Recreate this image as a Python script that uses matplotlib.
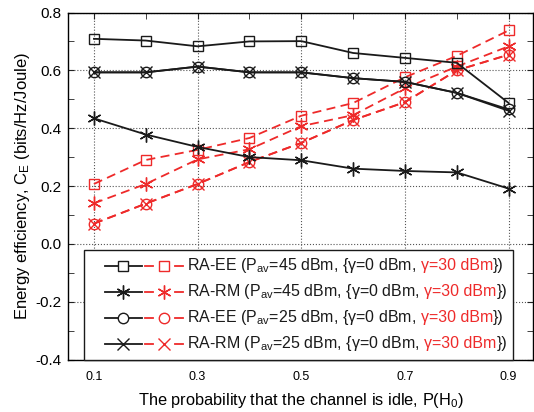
import numpy as np
import matplotlib
matplotlib.use("Agg")
import matplotlib.pyplot as plt
from matplotlib.lines import Line2D
from matplotlib.ticker import MultipleLocator, FormatStrFormatter
from matplotlib.offsetbox import (TextArea, DrawingArea, HPacker, VPacker,
                                  AnchoredOffsetbox)

plt.rcParams['font.family'] = ['Liberation Sans', 'DejaVu Sans']
plt.rcParams['mathtext.fontset'] = 'custom'
plt.rcParams['mathtext.rm'] = 'Liberation Sans'
plt.rcParams['mathtext.it'] = 'Liberation Sans:italic'

p_idle = [0.1, 0.2, 0.3, 0.4, 0.5, 0.6, 0.7, 0.8, 0.9]

# gamma = 0 dBm (black, solid)
ee45_g0 = [0.709, 0.703, 0.683, 0.700, 0.701, 0.660, 0.643, 0.626, 0.487]
rm45_g0 = [0.434, 0.378, 0.335, 0.300, 0.289, 0.260, 0.252, 0.247, 0.191]
ee25_g0 = [0.593, 0.593, 0.613, 0.593, 0.593, 0.573, 0.560, 0.522, 0.465]
rm25_g0 = [0.593, 0.593, 0.613, 0.593, 0.593, 0.573, 0.560, 0.522, 0.460]

# gamma = 30 dBm (red, dashed)
ee45_g30 = [0.207, 0.290, 0.325, 0.366, 0.443, 0.487, 0.576, 0.650, 0.738]
rm45_g30 = [0.140, 0.207, 0.292, 0.327, 0.407, 0.445, 0.538, 0.613, 0.683]
ee25_g30 = [0.070, 0.139, 0.207, 0.283, 0.349, 0.428, 0.490, 0.600, 0.654]
rm25_g30 = [0.070, 0.139, 0.207, 0.283, 0.349, 0.428, 0.490, 0.600, 0.654]

RED = '#ee2a2a'
BLK = '#1a1a1a'
STAR = (6, 2, 0)

series = [
    (ee45_g0, ee45_g30, 's', 'RA-EE', '45'),
    (rm45_g0, rm45_g30, STAR, 'RA-RM', '45'),
    (ee25_g0, ee25_g30, 'o', 'RA-EE', '25'),
    (rm25_g0, rm25_g30, 'x', 'RA-RM', '25'),
]

fig = plt.figure(figsize=(5.34, 4.12), dpi=100)
ax = fig.add_axes([68 / 534, 1 - 359.5 / 412, 465 / 534, 347 / 412])

msz = {'s': 7.5, STAR: 10, 'o': 7.5, 'x': 9}
for blk, red, mk, name, pav in series:
    ax.plot(p_idle, red, color=RED, ls=(0, (5, 3)), lw=1.3, marker=mk,
            ms=msz[mk], mfc='none', mec=RED, mew=1.0, zorder=3)
for blk, red, mk, name, pav in series:
    ax.plot(p_idle, blk, color=BLK, ls='-', lw=1.3, marker=mk,
            ms=msz[mk], mfc='none', mec=BLK, mew=1.0, zorder=4)

ax.set_xlim(0.05, 0.947)
ax.set_ylim(-0.4, 0.8)
ax.set_xticks([0.1, 0.3, 0.5, 0.7, 0.9])
ax.xaxis.set_minor_locator(MultipleLocator(0.1))
ax.yaxis.set_major_locator(MultipleLocator(0.2))
ax.yaxis.set_minor_locator(MultipleLocator(0.1))
ax.yaxis.set_major_formatter(FormatStrFormatter('%.1f'))
ax.xaxis.set_major_formatter(FormatStrFormatter('%.1f'))
ax.tick_params(which='both', direction='in', top=True, right=True,
               length=4, color='#222222')
ax.tick_params(axis='x', labelsize=9, pad=8)
ax.tick_params(axis='y', labelsize=11, pad=5)
ax.grid(True, which='major', ls=':', lw=0.8, color='#555555')
for sp in ax.spines.values():
    sp.set_linewidth(1.0)

ax.set_xlabel('The probability that the channel is idle, P(H$_0$)',
              fontsize=11.8, labelpad=6)
ax.set_ylabel('Energy efficiency, C$_{\\rm E}$ (bits/Hz/Joule)',
              fontsize=12, labelpad=2)

# legend with two-part handles and two-colour text
rows = []
fs = 11.5
for blk, red, mk, name, pav in series:
    da = DrawingArea(69, 10, 0, 0)
    da.add_artist(Line2D([10.8, 37.4], [5, 5], color=BLK, lw=1.3))
    da.add_artist(Line2D([23.8], [5], marker=mk, ms=msz[mk], mfc='white',
                         mec=BLK, mew=1.0, ls='none'))
    da.add_artist(Line2D([39.6, 45.4], [5, 5], color=RED, lw=1.3))
    da.add_artist(Line2D([61.2, 66.9], [5, 5], color=RED, lw=1.3))
    da.add_artist(Line2D([53.3], [5], marker=mk, ms=msz[mk], mfc='white',
                         mec=RED, mew=1.0, ls='none'))
    t1 = TextArea(name + ' (P$_{\\rm av}$=' + pav + ' dBm, {\u03b3=0 dBm,',
                  textprops=dict(fontsize=fs, color=BLK))
    t2 = TextArea('\u03b3=30 dBm', textprops=dict(fontsize=fs, color=RED))
    t3 = TextArea('})', textprops=dict(fontsize=fs, color=BLK))
    txt = HPacker(children=[t1, HPacker(children=[t2, t3], sep=0,
                                        align='baseline')],
                  sep=3, align='baseline')
    rows.append(HPacker(children=[da, txt], sep=1, align='center'))

box = VPacker(children=rows, sep=5, align='left')
leg = AnchoredOffsetbox(loc='lower left', child=box, pad=0.45,
                        borderpad=0, frameon=True,
                        bbox_to_anchor=(16 / 465, 0),
                        bbox_transform=ax.transAxes)
leg.patch.set_edgecolor(BLK)
leg.patch.set_linewidth(1.0)
leg.patch.set_boxstyle('square', pad=0)
leg.set_zorder(6)
ax.add_artist(leg)

fig.savefig('out.png', dpi=100)
